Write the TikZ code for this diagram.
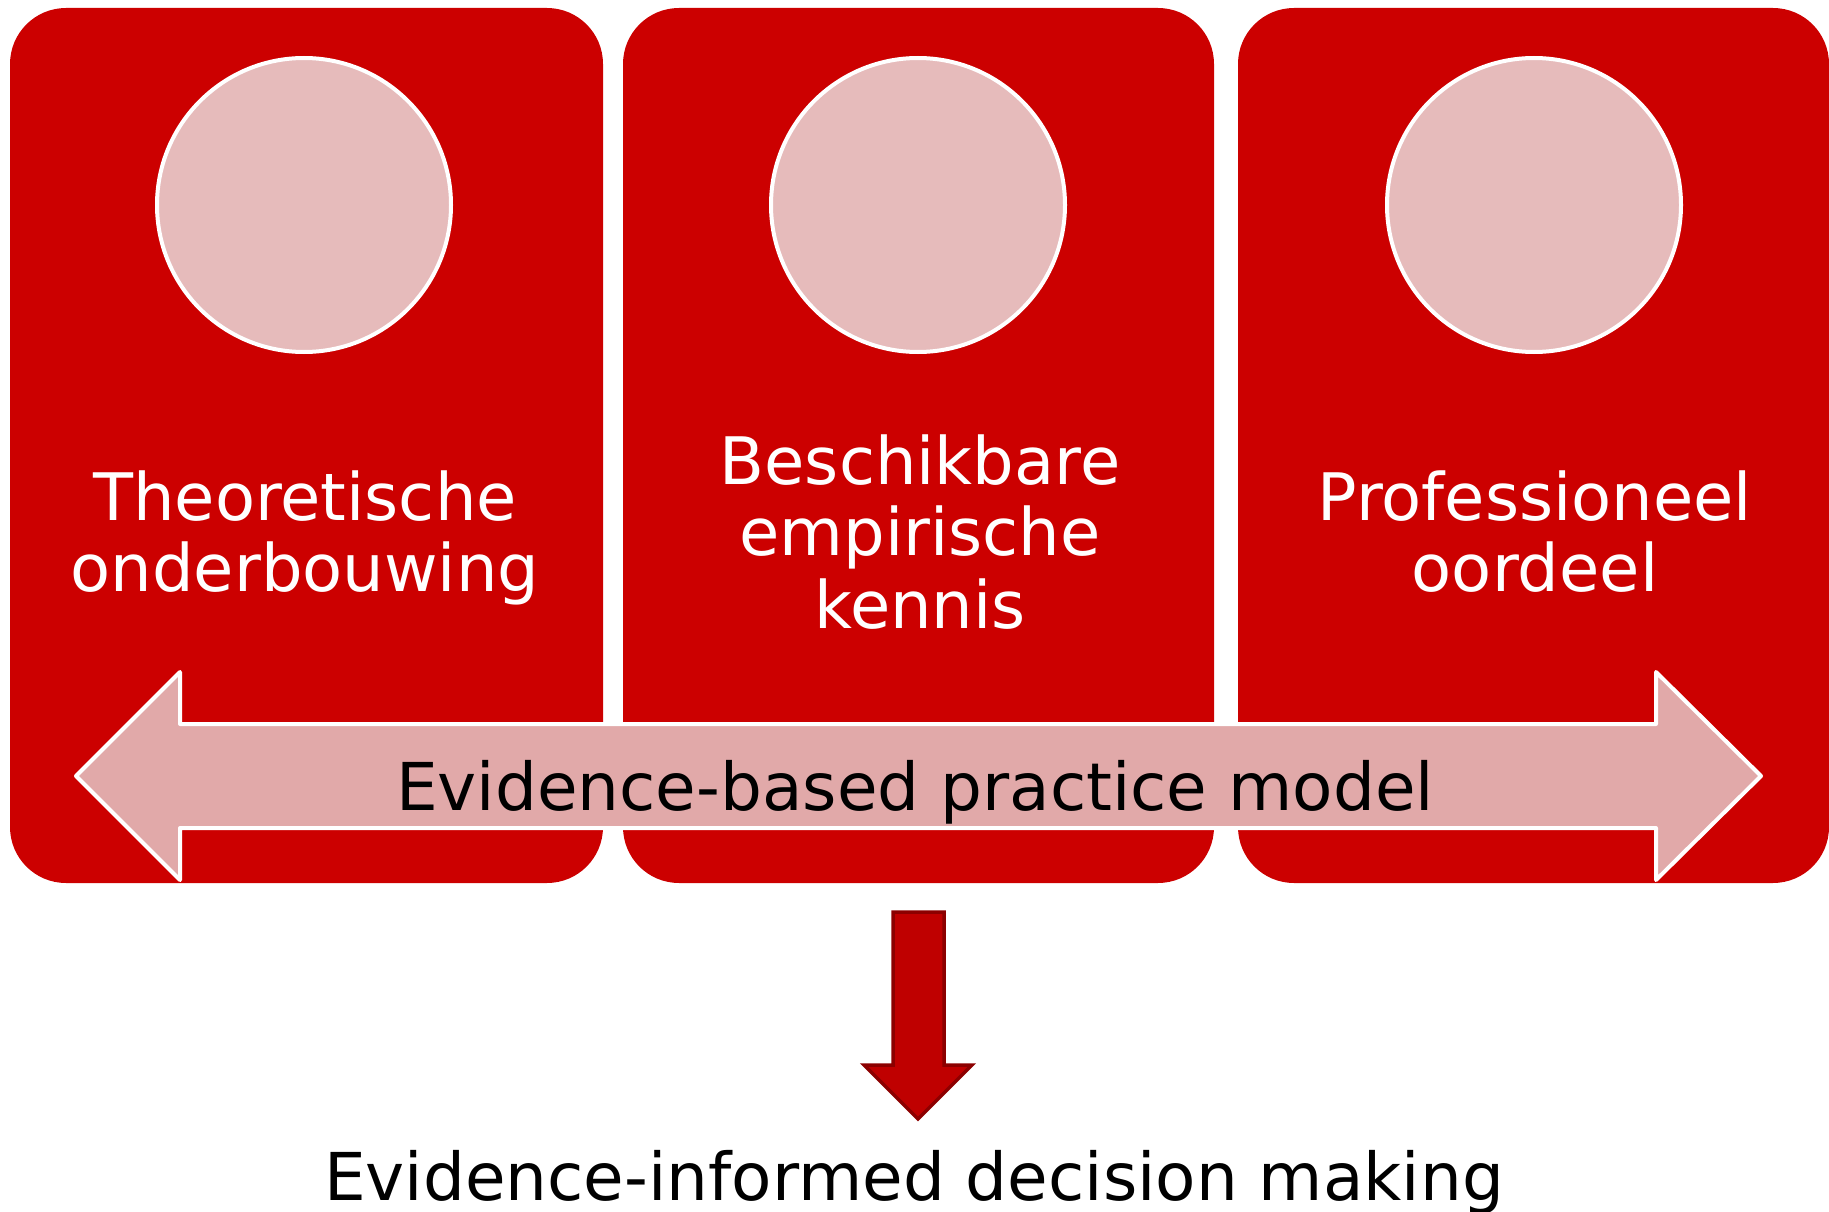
\documentclass[tikz,border=0pt]{standalone}
\usepackage{fontspec}
\setmainfont{DejaVu Sans}
\definecolor{boxred}{HTML}{CC0000}
\definecolor{circpink}{HTML}{E6BBBB}
\definecolor{arrowpink}{HTML}{E1A9A9}
\definecolor{downfill}{HTML}{BF0000}
\definecolor{downedge}{HTML}{8C0000}
\tikzset{
  redbox/.style={fill=boxred, draw=none, rounded corners=56pt},
  pinkcirc/.style={circle, fill=circpink, draw=white, line width=4pt, minimum size=294pt, inner sep=0pt},
  whitetext/.style={text=white, font=\fontsize{65.5}{72}\selectfont, anchor=base, inner sep=0pt},
  blacktext/.style={text=black, font=\fontsize{66}{72}\selectfont, anchor=base, inner sep=0pt},
  dblarrow/.style={fill=arrowpink, draw=white, line width=4pt, line join=round},
  downarrow/.style={fill=downfill, draw=downedge, line width=3.5pt, line join=miter},
}
\begin{document}
\begin{tikzpicture}[x=1pt, y=-1pt]
\useasboundingbox (0,0) rectangle (1829,1212);
% boxes
\fill[redbox] (10,8) rectangle (603,883);
\fill[redbox] (623,8) rectangle (1214,883);
\fill[redbox] (1238,8) rectangle (1829,883);
% circles
\node[pinkcirc] (c1) at (304,205) {};
\node[pinkcirc] (c2) at (918,205) {};
\node[pinkcirc] (c3) at (1534,205) {};
% texts
\node[whitetext] (t1a) at (305,520) {Theoretische};
\node[whitetext] (t1b) at (305,591) {onderbouwing};
\node[whitetext] (t2a) at (920,484) {Beschikbare};
\node[whitetext] (t2b) at (920,555) {empirische};
\node[whitetext] (t2c) at (920,628) {kennis};
\node[whitetext] (t3a) at (1535,520) {Professioneel};
\node[whitetext] (t3b) at (1535,591) {oordeel};
% double arrow
\draw[dblarrow] (76,776) -- (180,672) -- (180,724) -- (1656,724) -- (1656,672)
  -- (1761,776) -- (1656,880) -- (1656,828) -- (180,828) -- (180,880) -- cycle;
\node[blacktext] (ebp) at (915,810) {Evidence-based practice model};
% down arrow
\draw[downarrow] (893,912) -- (944,912) -- (944,1065) -- (972,1065) -- (918,1119)
  -- (864,1065) -- (893,1065) -- cycle;
\node[blacktext] (eidm) at (914,1200) {Evidence-informed decision making};
\end{tikzpicture}
\end{document}
